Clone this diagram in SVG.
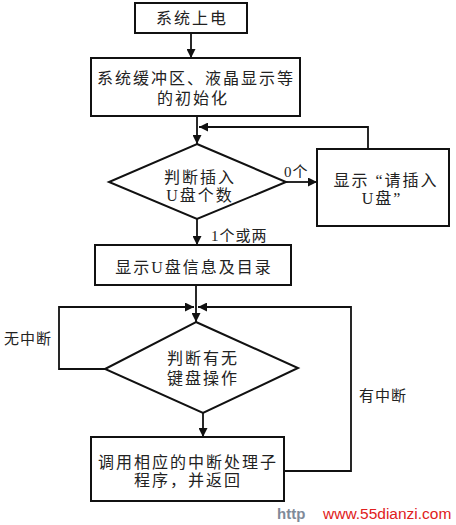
<svg xmlns="http://www.w3.org/2000/svg" width="456" height="525" viewBox="0 0 456 525">
<defs>
<marker id="ah" viewBox="0 0 10 10" refX="10" refY="5" markerWidth="5.5" markerHeight="5" orient="auto" markerUnits="strokeWidth">
<path d="M0,0 L10,5 L0,10 z" fill="#111"/>
</marker>
<style>
.box{fill:#fff;stroke:#111;stroke-width:2}
.t{font-family:"Liberation Serif","Noto Sans CJK SC",serif;font-size:16px;fill:#222;text-anchor:middle;letter-spacing:2px}
.s{font-family:"Liberation Serif","Noto Sans CJK SC",serif;font-size:15px;fill:#222;letter-spacing:1px}
.c{fill:none;stroke:#111;stroke-width:1.8}
.a{marker-end:url(#ah)}
</style>
</defs>
<rect width="456" height="525" fill="#fff"/>
<g id="connectors">
<path class="c a" d="M191,33 V58"/>
<path class="c a" d="M197,116 V144"/>
<path class="c a" d="M368,149 V127 H199"/>
<path class="c a" d="M286,182 H317"/>
<path class="c a" d="M197,219 V245"/>
<path class="c a" d="M196,285 V322"/>
<path class="c a" d="M105,369 H59 V307 H194"/>
<path class="c a" d="M284,471 H351 V307 H198"/>
<path class="c a" d="M203,413 V437"/>
</g>
<g id="n1"><rect class="box" x="135" y="3" width="112" height="30"/><text class="t" x="192" y="24">系统上电</text></g>
<g id="n2"><rect class="box" x="91" y="58" width="209" height="58"/><text class="t" x="196" y="84">系统缓冲区、液晶显示等</text><text class="t" x="193" y="104">的初始化</text></g>
<g id="n3"><polygon class="box" points="197,144 286,182 197,219 109,182"/><text class="t" x="200" y="183">判断插入</text><text class="t" x="200" y="201">U盘个数</text></g>
<g id="n4"><rect class="box" x="317" y="149" width="132" height="77"/><text class="t" x="386" y="186">显示 “请插入</text><text class="t" x="382" y="204">U盘”</text></g>
<g id="n5"><rect class="box" x="95" y="245" width="196" height="40"/><text class="t" x="194" y="273">显示U盘信息及目录</text></g>
<g id="n6"><polygon class="box" points="196,322 298,368 203,413 105,369"/><text class="t" x="203" y="364">判断有无</text><text class="t" x="203" y="384">键盘操作</text></g>
<g id="n7"><rect class="box" x="91" y="437" width="193" height="64"/><text class="t" x="188" y="468">调用相应的中断处理子</text><text class="t" x="188" y="486">程序，并返回</text></g>
<g id="labels">
<text class="s" x="284" y="177">0个</text>
<text class="s" x="211" y="241">1个或两</text>
<text class="s" x="4" y="344">无中断</text>
<text class="s" x="359" y="401">有中断</text>
</g>
<g id="watermark">
<text x="277" y="519" font-family="Liberation Sans,Arial,sans-serif" font-size="15" font-weight="bold" fill="#7f8a99">http</text>
<text x="323" y="519" font-family="Liberation Sans,Arial,sans-serif" font-size="15.5" fill="#e02020">www.55dianzi.com</text>
</g>
</svg>
